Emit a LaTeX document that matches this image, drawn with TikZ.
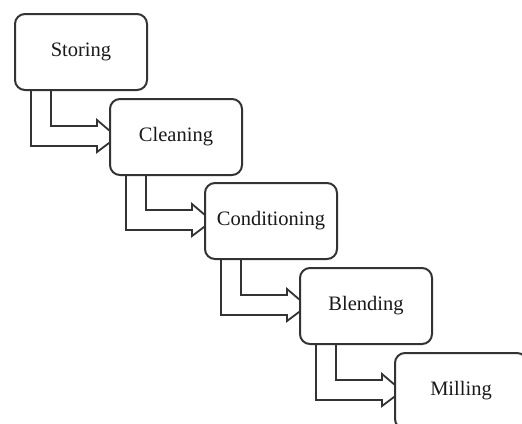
\documentclass[tikz,border=0pt]{standalone}
\usepackage{fontspec}
\setmainfont{Liberation Serif}
\usetikzlibrary{calc,backgrounds}

% hollow bent arrow from the foot of one box to the side of the next
\newcommand{\stepflow}[2]{%
  \draw[flowline] ($(#1.south west)+(17,0)$) |- ($(#2.north west)+(-12,48)$)
    -- ++(0,6) -- ($(#2.west)+(8,0)$) -- ($(#2.north west)+(-12,22)$)
    -- ++(0,6) -| ($(#1.south west)+(37,0)$);}

\begin{document}
\begin{tikzpicture}[x=1pt, y=-1pt,
    stepbox/.style={draw=black!80, line width=2pt, fill=white, rounded corners=10pt,
      minimum width=132pt, minimum height=76pt, inner sep=0pt,
      text=black!90, font=\fontsize{20.5}{24}\selectfont},
    flowline/.style={draw=black!80, line width=1.8pt}]
            \clip (0,0) rectangle (522,423);

            \node[stepbox] (storing) at (81,52) {Storing};
            \node[stepbox] (cleaning) at (176,137) {Cleaning};
            \node[stepbox] (conditioning) at (271,221) {Conditioning};
            \node[stepbox] (blending) at (366,306) {Blending};
            \node[stepbox] (milling) at (461,391) {Milling};

            \begin{scope}[on background layer]
            \stepflow{storing}{cleaning}
            \stepflow{cleaning}{conditioning}
            \stepflow{conditioning}{blending}
            \stepflow{blending}{milling}
            \end{scope}
        \end{tikzpicture}
\end{document}
